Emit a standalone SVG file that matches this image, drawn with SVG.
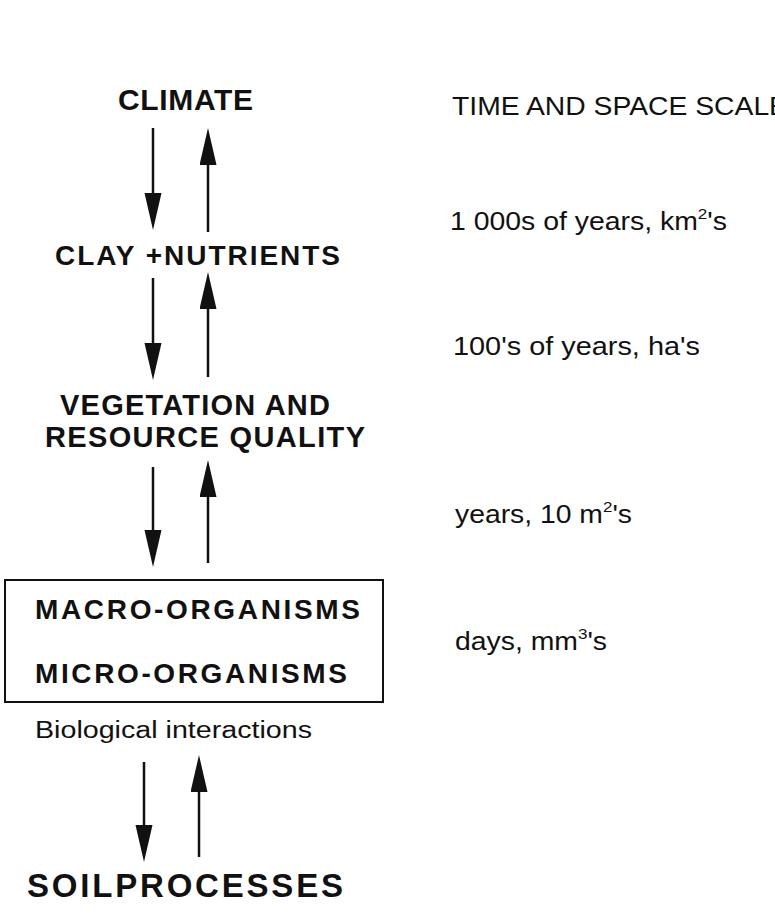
<svg xmlns="http://www.w3.org/2000/svg" width="775" height="921" viewBox="0 0 775 921">
<style>
.h{font-family:"Liberation Sans",Arial,sans-serif;font-weight:bold;font-size:28px;fill:#111}
.r{font-family:"Liberation Sans",Arial,sans-serif;font-size:25px;fill:#111}
.s{font-size:15px}
.ln{stroke:#111;stroke-width:2.5;fill:none}
.box{stroke:#111;stroke-width:2;fill:none}
</style>
<defs>
<marker id="ah" markerUnits="userSpaceOnUse" markerWidth="38" markerHeight="18" refX="27" refY="8.5" orient="auto" viewBox="0 0 38 18">
<path d="M0,0 L37,8.5 L0,17 Z" fill="#111"/>
</marker>
</defs>
<rect width="775" height="921" fill="#fff"/>
<g id="climate"><text class="h" x="118" y="110" style="font-size:30px" textLength="135" lengthAdjust="spacing">CLIMATE</text></g>
<g id="clay"><text class="h" x="55" y="265" textLength="285" lengthAdjust="spacing">CLAY +NUTRIENTS</text></g>
<g id="vegetation">
<text class="h" x="60" y="415" style="font-size:29px" textLength="270" lengthAdjust="spacing">VEGETATION AND</text>
<text class="h" x="45" y="447" style="font-size:29px" textLength="320" lengthAdjust="spacing">RESOURCE QUALITY</text>
</g>
<g id="organisms">
<rect class="box" x="5" y="580" width="378" height="122"/>
<text class="h" x="35" y="619" textLength="325" lengthAdjust="spacing">MACRO-ORGANISMS</text>
<text class="h" x="35" y="683" textLength="312" lengthAdjust="spacing">MICRO-ORGANISMS</text>
</g>
<g id="bio"><text class="r" x="35" y="738" style="font-size:23px" textLength="277" lengthAdjust="spacingAndGlyphs">Biological interactions</text></g>
<g id="soil"><text class="h" x="27" y="897" style="font-size:33px" textLength="316" lengthAdjust="spacing">SOILPROCESSES</text></g>
<g id="scales">
<text class="r" x="452" y="115" textLength="336" lengthAdjust="spacingAndGlyphs">TIME AND SPACE SCALE</text>
<text class="r" x="450" y="230" textLength="277" lengthAdjust="spacingAndGlyphs">1 000s of years, km<tspan class="s" dy="-11">2</tspan><tspan dy="11">'s</tspan></text>
<text class="r" x="453" y="355" textLength="247" lengthAdjust="spacingAndGlyphs">100's of years, ha's</text>
<text class="r" x="455" y="523" textLength="177" lengthAdjust="spacingAndGlyphs">years, 10 m<tspan class="s" dy="-11">2</tspan><tspan dy="11">'s</tspan></text>
<text class="r" x="455" y="650" textLength="152" lengthAdjust="spacingAndGlyphs">days, mm<tspan class="s" dy="-11">3</tspan><tspan dy="11">'s</tspan></text>
</g>
<g id="connectors">
<line class="ln" x1="153" y1="128" x2="153" y2="220" marker-end="url(#ah)"/>
<line class="ln" x1="208" y1="232" x2="208" y2="138" marker-end="url(#ah)"/>
<line class="ln" x1="153" y1="278" x2="153" y2="370" marker-end="url(#ah)"/>
<line class="ln" x1="208" y1="377" x2="208" y2="282" marker-end="url(#ah)"/>
<line class="ln" x1="153" y1="467" x2="153" y2="557" marker-end="url(#ah)"/>
<line class="ln" x1="208" y1="563" x2="208" y2="470" marker-end="url(#ah)"/>
<line class="ln" x1="144" y1="762" x2="144" y2="852" marker-end="url(#ah)"/>
<line class="ln" x1="199" y1="857" x2="199" y2="765" marker-end="url(#ah)"/>
</g>
</svg>
